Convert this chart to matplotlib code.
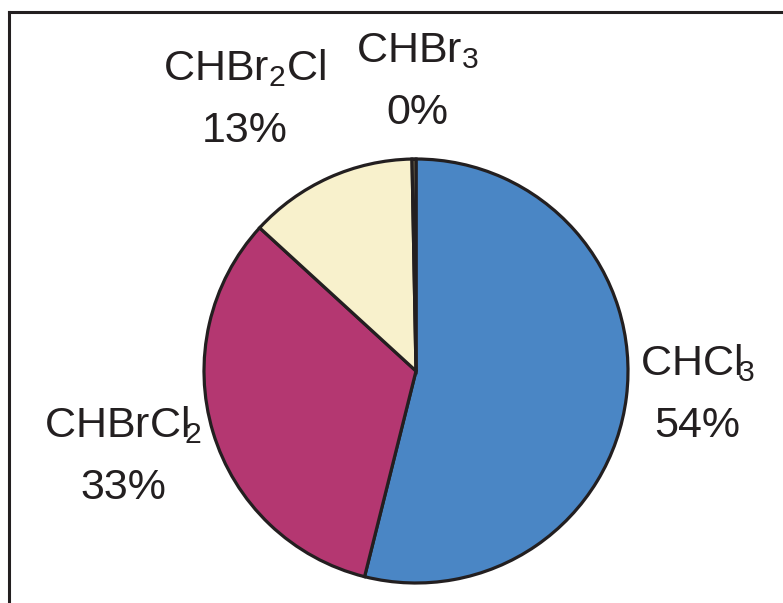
import matplotlib
matplotlib.use("Agg")
import matplotlib.pyplot as plt
from matplotlib.lines import Line2D

# Share of each trihalomethane species (percent)
species = ["CHCl3", "CHBrCl2", "CHBr2Cl", "CHBr3"]
species_tex = [r"CHCl$\!_3$", r"CHBrCl$\!_2$", r"CHBr$_2$Cl", r"CHBr$_3$"]
shares = [53.9, 32.9, 12.9, 0.3]
colors = ["#4A86C5", "#B43771", "#F8F1CC", "#8A8060"]

# label baseline anchor (x, y) in pie-radius units, one per species
label_xy = [(1.325, -0.019), (-1.382, -0.311), (-0.81, 1.373), (0.005, 1.458)]
LINE_GAP = 0.293

plt.rcParams["font.family"] = ["Liberation Sans", "DejaVu Sans"]
plt.rcParams["mathtext.fontset"] = "custom"
plt.rcParams["mathtext.rm"] = "Liberation Sans"
plt.rcParams["mathtext.it"] = "Liberation Sans"
plt.rcParams["mathtext.default"] = "rm"

W, H, DPI = 783, 603, 100
fig = plt.figure(figsize=(W / DPI, H / DPI), dpi=DPI)
ax = fig.add_axes([0, 0, 1, 1])

ax.pie(shares, colors=colors, startangle=90, counterclock=False,
       wedgeprops=dict(edgecolor="#231F20", linewidth=2.3))

# place the pie: centre at (416, 371) px from top-left, radius 212 px
cx, cy, r = 416, 371, 212
ax.set_xlim(-cx / r, (W - cx) / r)
ax.set_ylim(-(H - cy) / r, cy / r)
ax.set_aspect("auto")
ax.axis("off")

ink = "#231F20"
for tex, val, (x, y) in zip(species_tex, shares, label_xy):
    ax.text(x, y, tex, ha="center", va="baseline", fontsize=31, color=ink)
    ax.text(x, y - LINE_GAP, f"{round(val):d}%", ha="center", va="baseline",
            fontsize=31, color=ink)

# outer frame (top and left edges)
fx = 8.5 / W
fy = 1 - 11.5 / H
fig.add_artist(Line2D([fx, 1], [fy, fy], transform=fig.transFigure,
                      color=ink, linewidth=2.2, solid_capstyle="projecting"))
fig.add_artist(Line2D([fx, fx], [0, fy], transform=fig.transFigure,
                      color=ink, linewidth=2.2, solid_capstyle="projecting"))

fig.savefig("out.png", dpi=DPI)
